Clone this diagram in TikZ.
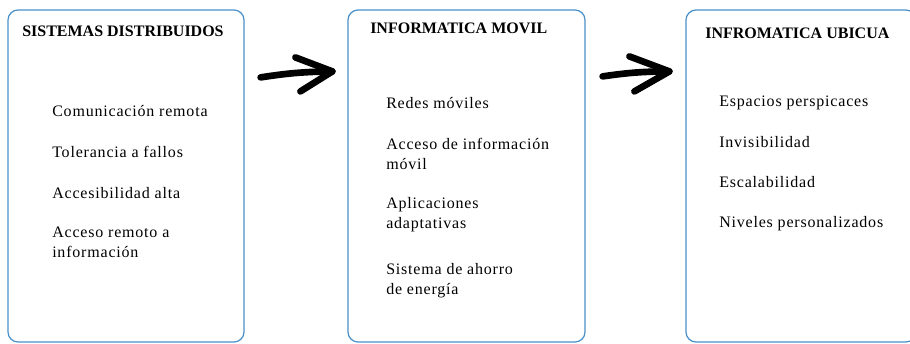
\documentclass[tikz,border=0pt]{standalone}
\usepackage{fontspec}
\setmainfont{Liberation Serif}
\usetikzlibrary{fit,calc}
\definecolor{cajaazul}{RGB}{74,144,200}
\tikzset{
  caja/.style={draw=cajaazul, line width=0.9pt, rounded corners=7.5pt, inner sep=0pt},
  titulo/.style={anchor=base west, inner sep=0pt, font=\fontsize{12}{15}\selectfont\bfseries},
  item/.style={anchor=base west, inner sep=0pt, align=left,
    font=\fontsize{12}{15}\selectfont\addfontfeature{LetterSpace=5}},
  flecha/.style={line width=5pt, line cap=round, line join=round}
}
\begin{document}
\begin{tikzpicture}[x=0.75pt,y=-0.75pt]
  \useasboundingbox (0,0) rectangle (910,343);
  \clip (0,0) rectangle (910,343);
  % las tres cajas
  \node[caja, fit={(8,10) (244,342)}] (sd) {};
  \node[caja, fit={(348,10) (585,342)}] (im) {};
  \node[caja, fit={(686,10) (916,342)}] (ub) {};
  % titulos
  \node[titulo] (sdt) at (22,36) {SISTEMAS DISTRIBUIDOS};
  \node[titulo] (imt) at (370,33) {INFORMATICA MOVIL};
  \node[titulo] (ubt) at (705,38) {INFROMATICA UBICUA};
  % contenido (y = base de la ultima linea)
  \foreach \t/\y [count=\i] in {Comunicación remota/116, Tolerancia a fallos/157,
      Accesibilidad alta/198, {Acceso remoto a\\información}/257}
    \node[item] (sd\i) at (52,\y) {\t};
  \foreach \t/\y [count=\i] in {Redes móviles/108, {Acceso de información\\móvil}/169,
      {Aplicaciones\\adaptativas}/228, {Sistema de ahorro\\de energía}/294}
    \node[item] (im\i) at (386,\y) {\t};
  \foreach \t/\y [count=\i] in {Espacios perspicaces/106, Invisibilidad/147,
      Escalabilidad/187, Niveles personalizados/227}
    \node[item] (ub\i) at (719,\y) {\t};
  % flechas
  \coordinate (f1a) at ($(sd.north east)+(16,68)$);
  \coordinate (f1b) at ($(im.north west)+(-15,62)$);
  \coordinate (f2a) at ($(im.north east)+(17,67)$);
  \coordinate (f2b) at ($(ub.north west)+(-16,62)$);
  \draw[flecha] (f1a) to[bend left=4] (f1b);
  \draw[flecha] ($(f1b)+(-37,-14)$) -- (f1b) -- ($(f1b)+(-32,20)$);
  \draw[flecha] (f2a) to[bend left=4] (f2b);
  \draw[flecha] ($(f2b)+(-40,-15)$) -- (f2b) -- ($(f2b)+(-35,20)$);
\end{tikzpicture}
\end{document}
